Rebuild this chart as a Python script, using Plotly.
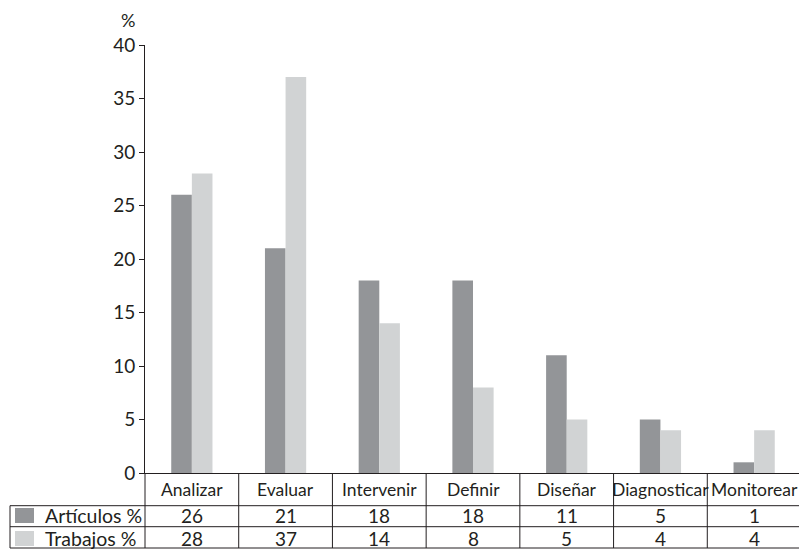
import plotly.graph_objects as go

categories = ["Analizar", "Evaluar", "Intervenir", "Definir", "Diseñar", "Diagnosticar", "Monitorear"]
articulos = [26, 21, 18, 18, 11, 5, 1]
trabajos = [28, 37, 14, 8, 5, 4, 4]
series_names = ["Artículos %", "Trabajos %"]
y_ticks = [0, 5, 10, 15, 20, 25, 30, 35, 40]

DARK = "#939598"
LIGHT = "#d1d3d4"
TXT = "#231f20"
LINE = "#231f20"
FONT = "Lato, 'Open Sans', sans-serif"

OFF = 8  # page body margin offset
W, H = 807 - OFF, 549 - OFF
ML, MR, MT, MB = 145 - OFF, 6, 45 - OFF, 76
PW = W - ML - MR
PH = H - MT - MB


def px(x):
    # x given in reference-window pixels
    return (x - OFF - ML) / PW


def py(y):
    # y given in reference-window pixels
    return (H - MB - (y - OFF)) / PH


fig = go.Figure()
fig.add_trace(go.Bar(x=categories, y=articulos, name=series_names[0], marker=dict(color=DARK, line=dict(width=0))))
fig.add_trace(go.Bar(x=categories, y=trabajos, name=series_names[1], marker=dict(color=LIGHT, line=dict(width=0))))

n = len(categories)
shapes = []
line = dict(color=LINE, width=1)
y_top = 0
y_r1 = py(505.7)
y_r2 = py(526.7)
y_r3 = py(548)
x_left = px(10)
for yy in (y_r1, y_r2, y_r3):
    shapes.append(dict(type="line", xref="paper", yref="paper", x0=x_left, x1=1, y0=yy, y1=yy, line=line))
for k in range(n + 1):
    xx = k / n
    shapes.append(dict(type="line", xref="paper", yref="paper", x0=xx, x1=xx, y0=y_top, y1=y_r3, line=line))
shapes.append(dict(type="line", xref="paper", yref="paper", x0=x_left, x1=x_left, y0=y_r1, y1=y_r3, line=line))
for (ya, yb), col in zip(((508, 523), (531, 546)), (DARK, LIGHT)):
    shapes.append(dict(type="rect", xref="paper", yref="paper", x0=px(15), x1=px(34), y0=py(yb), y1=py(ya),
                       fillcolor=col, line=dict(width=0)))

annotations = []
y_hdr = py((473 + 505.7) / 2)
y_row1 = py(515.0)
y_row2 = py(538.3)
cell = dict(showarrow=False, yanchor="middle", borderpad=0)
for c, a, t in zip(categories, articulos, trabajos):
    annotations.append(dict(x=c, xref="x", y=y_hdr, yref="paper", text=c, xanchor="center",
                            font=dict(family=FONT, size=17.5, color=TXT), **cell))
    annotations.append(dict(x=c, xref="x", y=y_row1, yref="paper", text=str(a), xanchor="center",
                            font=dict(family=FONT, size=19, color=TXT), **cell))
    annotations.append(dict(x=c, xref="x", y=y_row2, yref="paper", text=str(t), xanchor="center",
                            font=dict(family=FONT, size=19, color=TXT), **cell))
for name, yy in zip(series_names, (y_row1, y_row2)):
    annotations.append(dict(x=px(44), xref="paper", y=yy, yref="paper", text=name, xanchor="left",
                            font=dict(family=FONT, size=19.5, color=TXT), **cell))
annotations.append(dict(x=px(128), xref="paper", y=py(20), yref="paper", text="%", showarrow=False,
                        font=dict(family=FONT, size=18, color=TXT), xanchor="center", yanchor="middle"))

fig.update_layout(
    width=W, height=H,
    margin=dict(l=ML, r=MR, t=MT, b=MB, pad=0),
    paper_bgcolor="white", plot_bgcolor="white",
    barmode="group", bargap=0.56, bargroupgap=0,
    showlegend=False,
    font=dict(family=FONT, color=TXT),
    shapes=shapes, annotations=annotations,
    xaxis=dict(showticklabels=False, ticks="", showgrid=False, zeroline=False,
               showline=True, linecolor=LINE, linewidth=1, fixedrange=True),
    yaxis=dict(range=[0, 40], tickvals=y_ticks, ticks="outside", ticklen=5, tickcolor=LINE,
               showgrid=False, zeroline=False, showline=True, linecolor=LINE, linewidth=1,
               tickfont=dict(family=FONT, size=19, color=TXT), ticklabelstandoff=0),
)

fig.write_html("out.html")
